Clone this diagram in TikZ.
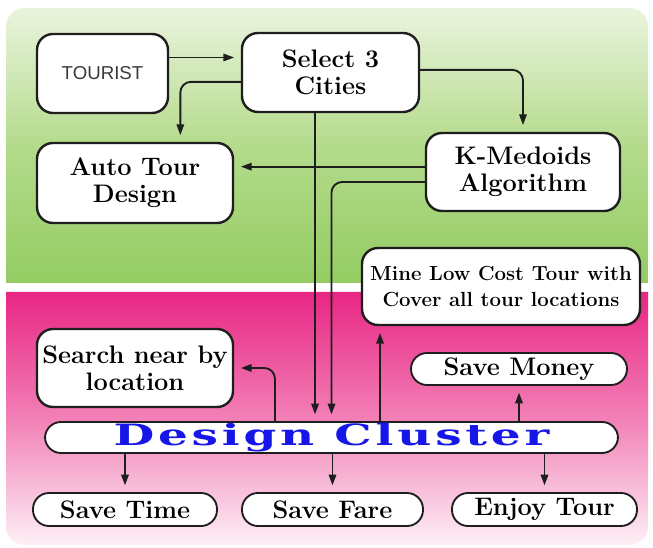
\documentclass[tikz,border=0pt]{standalone}
\usepackage{fontspec}
\setsansfont{Liberation Sans}
\newfontfamily\clusterfont[FakeStretch=1.6,LetterSpace=13]{DejaVu Serif}
\usetikzlibrary{arrows.meta}
\definecolor{greenTop}{RGB}{234,244,222}
\definecolor{greenMid}{RGB}{180,219,140}
\definecolor{greenBot}{RGB}{148,204,98}
\definecolor{pinkTop}{RGB}{232,38,132}
\definecolor{pinkMid}{RGB}{242,128,182}
\definecolor{pinkBot}{RGB}{253,240,246}
\definecolor{clusterBlue}{RGB}{22,22,232}
\definecolor{touristGray}{RGB}{58,58,58}
\definecolor{edgeColor}{RGB}{30,30,30}
\tikzset{stepNode/.style={shape=rectangle, rounded corners=12pt, draw=edgeColor, line width=1.8pt, fill=white, align=center, inner sep=0pt, font=\fontsize{19}{20}\selectfont\bfseries}}
\tikzset{pillNode/.style={stepNode, line width=1.4pt, minimum height=24.75pt}}
\tikzset{flow/.style={-{Triangle[length=8pt,width=5.5pt]}, draw=edgeColor, line width=1.4pt, shorten >=5pt}}

\begin{document}
\begin{tikzpicture}[x=0.75pt, y=-0.75pt]

\useasboundingbox (0,0) rectangle (653,548);

% two coloured panels
\shade[top color=greenTop, bottom color=greenBot, middle color=greenMid]
  (6,283) {[rounded corners=14pt] -- (6,8) -- (648,8)} -- (648,283) -- cycle;
\shade[top color=pinkTop, bottom color=pinkBot, middle color=pinkMid]
  (6,292) {[rounded corners=14pt] -- (6,545) -- (648,545)} -- (648,292) -- cycle;

% Upper part
\node[stepNode, font=\sffamily\fontsize{14}{16}\selectfont, text=touristGray, minimum width=98.25pt, minimum height=59.25pt] (tourist) at (102.5,73.5) {TOURIST};
\node[stepNode, minimum width=132.75pt, minimum height=59.25pt] (select) at (330.5,72.5) {Select 3\\Cities};
\node[stepNode, minimum width=147pt, minimum height=60pt] (auto) at (135,183) {Auto Tour\\Design};
\node[stepNode, minimum width=145.5pt, minimum height=58.5pt] (kmed) at (523,172) {K-Medoids\\Algorithm};
\node[stepNode, font=\fontsize{15.3}{19.5}\selectfont\bfseries, minimum width=208.5pt, minimum height=57.75pt] (mine) at (501,286.5) {Mine Low Cost Tour with\\Cover all tour locations};

% Lower part
\node[stepNode, minimum width=147pt, minimum height=58.5pt] (search) at (135,368) {Search near by\\location};
\node[pillNode, minimum width=162pt, minimum height=24pt] (money) at (519,369) {Save Money};
\node[pillNode, font=\clusterfont\bfseries\fontsize{22}{23}\selectfont, text=clusterBlue, minimum width=429.75pt, minimum height=23.25pt] (cluster) at (331.5,437.5) {Design Cluster};
\node[pillNode, minimum width=138pt] (time) at (125,509.5) {Save Time};
\node[pillNode, minimum width=135.75pt] (fare) at (332.5,509.5) {Save Fare};
\node[pillNode, minimum width=138.75pt] (enjoy) at (544.5,509.5) {Enjoy Tour};

% connectors
\draw[flow] ([yshift=12pt]tourist.east) -- ([yshift=12pt]tourist.east -| select.west);
\draw[flow, rounded corners=8pt] ([yshift=-7pt]select.west) -| ([xshift=34pt]auto.north);
\draw[flow, rounded corners=8pt] ([yshift=2pt]select.east) -| (kmed.north);
\draw[flow] ([yshift=4pt]kmed.west) -- ([yshift=4pt]kmed.west -| auto.east);
\draw[flow] ([xshift=-11.6pt]select.south) -- ([xshift=-11.6pt]select.south |- cluster.north);
\draw[flow, rounded corners=8pt] ([yshift=-7.5pt]kmed.west) -| (cluster.north);
\draw[flow] ([xshift=36.4pt]cluster.north) -- ([xshift=36.4pt]cluster.north |- mine.south);
\draw[flow, rounded corners=8pt] ([xshift=-42.4pt]cluster.north) |- (search.east);
\draw[flow] (cluster.north -| money.south) -- (money.south);
\draw[flow] (cluster.south -| time.north) -- (time.north);
\draw[flow] (cluster.south -| fare.north) -- (fare.north);
\draw[flow] (cluster.south -| enjoy.north) -- (enjoy.north);

\end{tikzpicture}
\end{document}
